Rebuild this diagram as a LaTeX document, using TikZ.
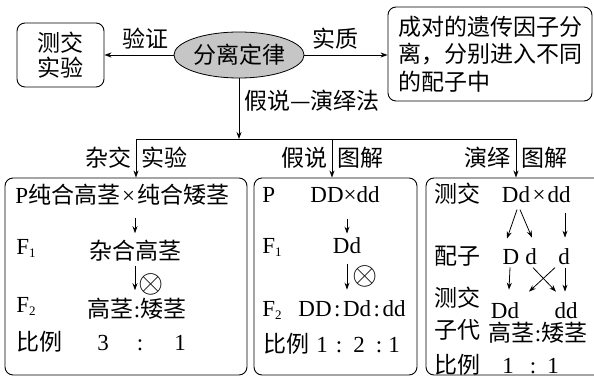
\documentclass[tikz,border=0pt]{standalone}
\usepackage{fontspec}
\setmainfont{Liberation Serif}
\newfontfamily\cjk{Noto Sans CJK SC}
\usetikzlibrary{shapes.geometric,arrows.meta}
\newcommand\lowidx[1]{\raisebox{-0.3ex}{\fontsize{13}{13}\selectfont #1}}
\newcommand\rat{\kern2.5pt:\kern2.5pt}
\newcommand\selfx{\scalebox{1.3}{$\otimes$}}
\begin{document}
\begin{tikzpicture}[x=1pt,y=-1pt,
  font=\fontsize{23}{27}\selectfont,
  zh/.style={font=\cjk\fontsize{23}{27}\selectfont},
  t/.style={inner sep=0pt, anchor=base},
  tw/.style={inner sep=0pt, anchor=base west},
  te/.style={inner sep=0pt, anchor=base east},
  box/.style={draw, rounded corners=8pt, line width=0.9pt, inner sep=0pt},
  arr/.style={-{Stealth[length=7pt,width=5pt]}, line width=0.8pt},
  line width=0.8pt]
\useasboundingbox (0,0) rectangle (594,377);

% ---- top row ----
\node[box, minimum width=87pt, minimum height=64pt, align=center,
      font=\cjk\fontsize{23}{25}\selectfont] (ce) at (60.5,55) {测交\\实验};
\node[ellipse, draw, fill=gray!45, minimum width=118pt, minimum height=46pt,
      inner sep=0pt, zh] (law) at (239,55) {分离定律};
\node[box, minimum width=204pt, minimum height=94pt, align=left,
      font=\cjk\fontsize{23}{27.5}\selectfont] (ess) at (490,54)
      {成对的遗传因子分\\离，分别进入不同\\的配子中};
\draw[arr] (law.west) -- (ce.east);
\draw[arr] (law.east) -- (law.east -| ess.west);
\node[t, zh] (yz) at (145,48) {验证};
\node[t, zh] (sz) at (335,48) {实质};

% ---- branch ----
\coordinate (hm) at (239,139);
\coordinate (hl) at (136,139);
\coordinate (hc) at (332,139);
\coordinate (hr) at (516,139);
\draw[arr] (law.south) -- (hm);
\node[tw, zh] (method) at (244,110) {假说—演绎法};
\draw (hl) -- (hr);

% ---- boxes ----
\node[box, minimum width=242pt, minimum height=197pt] (b1) at (126,276.5) {};
\node[box, minimum width=163pt, minimum height=197pt] (b2) at (335.5,276.5) {};
\node[box, minimum width=190pt, minimum height=197pt] (b3) at (521,276.5) {};
\draw[arr] (hl) -- (hl |- b1.north);
\draw[arr] (hc) -- (hc |- b2.north);
\draw[arr] (hr) -- (hr |- b3.north);
\node[te, zh] (l1a) at (132,166) {杂交};
\node[tw, zh] (l1b) at (141,166) {实验};
\node[te, zh] (l2a) at (328,166) {假说};
\node[tw, zh] (l2b) at (337,166) {图解};
\node[te, zh] (l3a) at (511,166) {演绎};
\node[tw, zh] (l3b) at (521,166) {图解};

% ---- box 1 ----
\node[tw] (p1) at (15,203) {P{\cjk 纯合高茎}\kern2pt×\kern2pt{\cjk 纯合矮茎}};
\node[tw] (f1) at (16,254) {F\lowidx{1}};
\node[t, zh] (h1) at (135,259) {杂合高茎};
\draw[arr, shorten <=13pt, shorten >=6pt] (p1.south -| h1.north) -- (h1.north);
\node[inner sep=0pt] (o1) at (151,284) {\selfx};
\node[tw] (f2) at (16,312) {F\lowidx{2}};
\node[t] (h2) at (137,317) {{\cjk 高茎}:{\cjk 矮茎}};
\draw[arr, shorten <=5pt, shorten >=7pt] (h1.south) -- (h1.south |- h2.north);
\node[tw, zh] (r1) at (16,350) {比例};
\node[t] (r1a) at (103,350) {3};
\node[t] (r1b) at (140,350) {:};
\node[t] (r1c) at (180,350) {1};

% ---- box 2 ----
\node[tw] (p2) at (262,202) {P};
\node[t] (x2) at (345,202) {DD×dd};
\node[tw] (f21) at (262,253) {F\lowidx{1}};
\node[t] (d2) at (347,253) {Dd};
\draw[arr, shorten <=16pt, shorten >=3pt] (x2.south -| d2.north) -- (d2.north);
\node[inner sep=0pt] (o2) at (365,276) {\selfx};
\node[tw] (f22) at (262,316) {F\lowidx{2}};
\node[t] (g2) at (352,316) {DD\rat Dd\rat dd};
\draw[arr, shorten <=10pt, shorten >=10pt] (d2.south) -- (d2.south |- g2.north);
\node[tw, zh] (r2) at (263,352) {比例};
\node[t] (r2a) at (322,352) {1};
\node[t] (r2b) at (339,352) {:};
\node[t] (r2c) at (359,352) {2};
\node[t] (r2d) at (379,352) {:};
\node[t] (r2e) at (394,352) {1};

% ---- box 3 ----
\node[tw, zh] (tc) at (434,202) {测交};
\node[t] (tDd) at (516,202) {Dd};
\node[t] (tx) at (539,202) {×};
\node[t] (tdd) at (559,202) {dd};
\node[tw, zh] (pz) at (434,264) {配子};
\node[t] (gD) at (511,264) {D};
\node[t] (gd1) at (531,264) {d};
\node[t] (gd2) at (564,264) {d};
\draw[arr] ([xshift=1pt,yshift=-7pt]tDd.south) -- ([xshift=-4pt,yshift=10pt]gD.north);
\draw[arr] ([xshift=4pt,yshift=-7pt]tDd.south) -- ([xshift=1pt,yshift=10pt]gd1.north);
\draw[arr] ([xshift=6pt,yshift=-10pt]tdd.south) -- ([xshift=1pt,yshift=10pt]gd2.north);
\node[tw, zh] (tc2) at (434,306) {测交};
\node[tw, zh] (zd) at (434,338) {子代};
\node[t] (bDd) at (505,318) {Dd};
\node[t] (bdd) at (566,318) {dd};
\node[t] (ph) at (538,341) {{\cjk 高茎}:{\cjk 矮茎}};
\draw[arr] ([xshift=-1pt,yshift=-3pt]gD.south) -- ([xshift=4pt,yshift=12pt]bDd.north);
\draw[arr] ([xshift=2pt,yshift=-3pt]gd1.south) -- ([xshift=-10pt,yshift=10pt]bdd.north);
\draw[arr] ([xshift=-9pt,yshift=-3pt]gd2.south) -- ([xshift=24pt,yshift=10pt]bDd.north);
\draw[arr] ([xshift=1pt,yshift=-3pt]gd2.south) -- ([xshift=-1pt,yshift=10pt]bdd.north);
\node[tw, zh] (r3) at (434,373) {比例};
\node[t] (r3a) at (508,373) {1};
\node[t] (r3b) at (533,373) {:};
\node[t] (r3c) at (553,373) {1};
\end{tikzpicture}
\end{document}
